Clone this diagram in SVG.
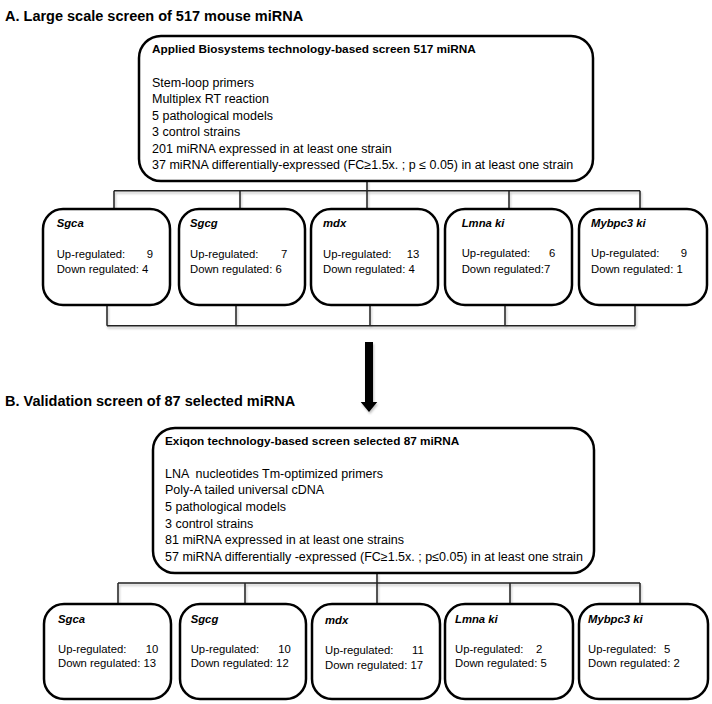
<svg xmlns="http://www.w3.org/2000/svg" width="712" height="704" viewBox="0 0 712 704">
<defs>
<style>
.t{font-family:"Liberation Sans",Arial,sans-serif;fill:#000}
.title{font-size:14.5px;font-weight:bold}
.hdr{font-size:11.8px;font-weight:bold}
.body{font-size:12.5px}
.name{font-size:11.3px;font-weight:bold;font-style:italic}
.cnt{font-size:11.3px}
.box{fill:#fff;stroke:#000;stroke-width:2.5}
.conn{fill:none;stroke:#222;stroke-width:1.5}
</style>
<filter id="sh" x="-5%" y="-50%" width="110%" height="200%">
<feDropShadow dx="1" dy="2" stdDeviation="1" flood-color="#000" flood-opacity="0.25"/>
</filter>
</defs>
<rect width="712" height="704" fill="#fff"/>

<text class="t title" x="5" y="21">A. Large scale screen of 517 mouse miRNA</text>
<text class="t title" x="5" y="405.7">B. Validation screen of 87 selected miRNA</text>

<g id="connectors" filter="url(#sh)">
<path class="conn" d="M367 181V209M114 190.7H640M114 190.7V209M240 190.7V209M509 190.7V209M640 190.7V209"/>
<path class="conn" d="M107 325.7H635M107 305V325.7M236 305V325.7M370 305V325.7M505 305V325.7M635 305V325.7"/>
<path class="conn" d="M377 573V604M118 583H640M118 583V604M245 583V604M510 583V604M640 583V604"/>
<polygon points="365,342 373,342 373,402 377.3,402 369,412 360.7,402 365,402" fill="#000"/>
</g>

<g id="screenA">
<rect class="box" x="139" y="36" width="454" height="145" rx="22"/>
<text class="t hdr" x="152" y="53">Applied Biosystems technology-based screen 517 miRNA</text>
<text class="t body" x="152" y="86.5">Stem-loop primers</text>
<text class="t body" x="152" y="103">Multiplex RT reaction</text>
<text class="t body" x="152" y="119.5">5 pathological models</text>
<text class="t body" x="152" y="136">3 control strains</text>
<text class="t body" x="152" y="152.5">201 miRNA expressed in at least one strain</text>
<text class="t body" x="152" y="169">37 miRNA differentially-expressed (FC≥1.5x. ; p ≤ 0.05) in at least one strain</text>
</g>

<g id="A-Sgca">
<rect class="box" x="43" y="209" width="127" height="96" rx="20"/>
<text class="t name" x="56.7" y="227">Sgca</text>
<text class="t cnt" x="56.7" y="257.5">Up-regulated: <tspan x="146.7">9</tspan></text>
<text class="t cnt" x="56.7" y="272.5">Down regulated: 4</text>
</g>
<g id="A-Sgcg">
<rect class="box" x="179" y="209" width="126" height="96" rx="20"/>
<text class="t name" x="190" y="227">Sgcg</text>
<text class="t cnt" x="190" y="257.5">Up-regulated: <tspan x="281">7</tspan></text>
<text class="t cnt" x="190" y="272.5">Down regulated: 6</text>
</g>
<g id="A-mdx">
<rect class="box" x="311" y="209" width="127" height="96" rx="20"/>
<text class="t name" x="323" y="227">mdx</text>
<text class="t cnt" x="323" y="258.3">Up-regulated: <tspan x="406.7">13</tspan></text>
<text class="t cnt" x="323" y="273.3">Down regulated: 4</text>
</g>
<g id="A-Lmna">
<rect class="box" x="445" y="209" width="127" height="96" rx="20"/>
<text class="t name" x="461.7" y="227">Lmna ki</text>
<text class="t cnt" x="461.7" y="257.3">Up-regulated: <tspan x="549">6</tspan></text>
<text class="t cnt" x="461.7" y="272.7">Down regulated:7</text>
</g>
<g id="A-Mybpc3">
<rect class="box" x="579" y="209" width="128" height="96" rx="20"/>
<text class="t name" x="591" y="227">Mybpc3 ki</text>
<text class="t cnt" x="591" y="257.3">Up-regulated: <tspan x="680.7">9</tspan></text>
<text class="t cnt" x="591" y="272.7">Down regulated: 1</text>
</g>

<g id="screenB">
<rect class="box" x="153" y="428" width="441" height="145" rx="22"/>
<text class="t hdr" x="165" y="445">Exiqon technology-based screen selected 87 miRNA</text>
<text class="t body" x="165" y="477.7" xml:space="preserve">LNA  nucleotides Tm-optimized primers</text>
<text class="t body" x="165" y="494.3">Poly-A tailed universal cDNA</text>
<text class="t body" x="165" y="510.9">5 pathological models</text>
<text class="t body" x="165" y="527.5">3 control strains</text>
<text class="t body" x="165" y="544.1">81 miRNA expressed in at least one strains</text>
<text class="t body" x="165" y="560.7">57 miRNA differentially -expressed (FC≥1.5x. ; p≤0.05) in at least one strain</text>
</g>

<g id="B-Sgca">
<rect class="box" x="44" y="604" width="127" height="95" rx="20"/>
<text class="t name" x="58" y="622.7">Sgca</text>
<text class="t cnt" x="58" y="652.7">Up-regulated: <tspan x="145.7">10</tspan></text>
<text class="t cnt" x="58" y="667.3">Down regulated: 13</text>
</g>
<g id="B-Sgcg">
<rect class="box" x="180" y="604" width="126" height="95" rx="20"/>
<text class="t name" x="190.7" y="622.7">Sgcg</text>
<text class="t cnt" x="190.7" y="652.7">Up-regulated: <tspan x="278.3">10</tspan></text>
<text class="t cnt" x="190.7" y="667.3">Down regulated: 12</text>
</g>
<g id="B-mdx">
<rect class="box" x="312" y="604" width="128" height="95" rx="20"/>
<text class="t name" x="325" y="624">mdx</text>
<text class="t cnt" x="325" y="654">Up-regulated: <tspan x="412">11</tspan></text>
<text class="t cnt" x="325" y="668.6">Down regulated: 17</text>
</g>
<g id="B-Lmna">
<rect class="box" x="445" y="604" width="128" height="95" rx="20"/>
<text class="t name" x="455" y="622.7">Lmna ki</text>
<text class="t cnt" x="455" y="652.7">Up-regulated: <tspan x="536">2</tspan></text>
<text class="t cnt" x="455" y="667.3">Down regulated: 5</text>
</g>
<g id="B-Mybpc3">
<rect class="box" x="579" y="604" width="129" height="95" rx="20"/>
<text class="t name" x="588" y="622.7">Mybpc3 ki</text>
<text class="t cnt" x="588" y="652.7">Up-regulated: <tspan x="664">5</tspan></text>
<text class="t cnt" x="588" y="667.3">Down regulated: 2</text>
</g>
</svg>
